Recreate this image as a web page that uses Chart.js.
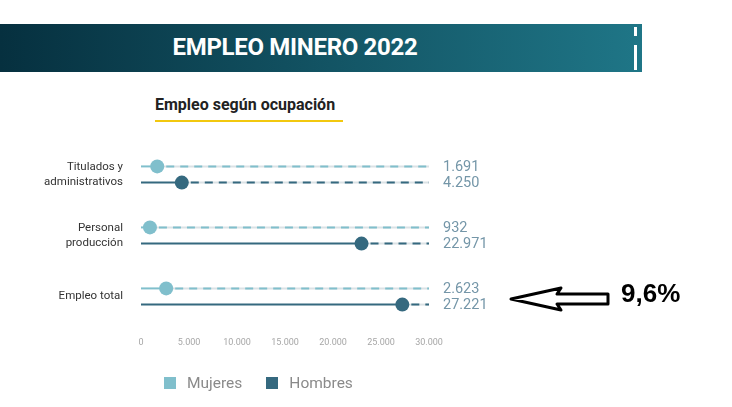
<!DOCTYPE html>
<html>
<head>
<meta charset="utf-8">
<script src="https://cdn.jsdelivr.net/npm/chart.js@4"></script>
<style>
  body { margin: 0; width: 732px; height: 407px; background: #fff; position: relative; overflow: hidden; font-family: Roboto, sans-serif; }
  #banner { position: absolute; left: 0; top: 24px; width: 642px; height: 48px;
            background: linear-gradient(to right, #06303f, #1f7687); }
  #banner h1 { margin: 0; position: absolute; left: 0; width: 590px; top: 9px; text-align: center;
               color: #fff; font: bold 24px Roboto, sans-serif; letter-spacing: -0.3px; }
  .bar { position: absolute; left: 634px; width: 3px; background: #fff; }
  #subtitle { position: absolute; left: 155px; top: 95px; font: bold 16px Roboto, sans-serif; color: #222; }
  #underline { position: absolute; left: 155px; top: 120px; width: 188px; height: 2px; background: #f2c80f; }
  #chartBox { position: absolute; left: 0; top: 0; width: 732px; height: 407px; }
  #legend { position: absolute; left: 164px; top: 374px; font: 15.5px Roboto, sans-serif; color: #8a8a8a; }
  #legend span.sw { display: inline-block; width: 12px; height: 12px; margin-right: 11px; vertical-align: -1px; }
  #legend span.item { margin-right: 24px; }
  #note { position: absolute; left: 621px; top: 278px; font: bold 26px Arial, "Liberation Sans", sans-serif; color: #000; }
  svg { position: absolute; left: 0; top: 0; }
</style>
</head>
<body>
<div id="banner">
  <h1>EMPLEO MINERO 2022</h1>
  <div class="bar" style="top:3px;height:9px"></div>
  <div class="bar" style="top:21px;height:25px"></div>
</div>
<div id="subtitle">Empleo según ocupación</div>
<div id="underline"></div>
<div id="chartBox"><canvas id="chart" width="732" height="407"></canvas></div>
<div id="legend"></div>
<svg width="732" height="407">
  <polygon points="511,299 561,288 557,294 608,294 608,304 557,304 561,310"
           fill="#fff" stroke="#000" stroke-width="3" stroke-linejoin="round"/>
</svg>
<div id="note">9,6%</div>

<script>
// data
const categories = [['Titulados y', 'administrativos'], ['Personal', 'producción'], 'Empleo total'];
const mujeres = [1691, 932, 2623];
const hombres = [4250, 22971, 27221];
const seriesNames = ['Mujeres', 'Hombres'];
const xTicks = [0, 5000, 10000, 15000, 20000, 25000, 30000];
const axisMax = 30000;

const colors = ['#80bfcc', '#35697f'];

function fmt(n) {
    return n.toString().replace(/\B(?=(\d{3})+(?!\d))/g, '.');
}

// dashed tail, dot and value label for every bar
const dumbbellPlugin = {
    id: 'dumbbell',
    afterDatasetsDraw(chart) {
        const ctx = chart.ctx;
        const xs = chart.scales.x;
        const xEnd = xs.getPixelForValue(axisMax);
        chart.data.datasets.forEach((ds, di) => {
            chart.getDatasetMeta(di).data.forEach((bar, i) => {
                const y = bar.y, xv = bar.x;
                ctx.save();
                ctx.lineWidth = 2;
                ctx.strokeStyle = '#dbe2e5';
                ctx.beginPath(); ctx.moveTo(xv, y); ctx.lineTo(xEnd, y); ctx.stroke();
                ctx.setLineDash([8, 6]);
                ctx.strokeStyle = colors[di];
                ctx.beginPath(); ctx.moveTo(xv + 9, y); ctx.lineTo(xEnd, y); ctx.stroke();
                ctx.setLineDash([]);
                ctx.fillStyle = colors[di];
                ctx.beginPath(); ctx.arc(xv, y, 7, 0, Math.PI * 2); ctx.fill();
                ctx.fillStyle = '#7496a8';
                ctx.font = '14.5px Roboto, sans-serif';
                ctx.textAlign = 'left';
                ctx.textBaseline = 'middle';
                ctx.fillText(fmt(ds.data[i]), xEnd + 14, y + 1);
                ctx.restore();
            });
        });
    }
};

new Chart(document.getElementById('chart'), {
    type: 'bar',
    data: {
        labels: categories,
        datasets: [
            { label: seriesNames[0], data: mujeres, backgroundColor: colors[0] },
            { label: seriesNames[1], data: hombres, backgroundColor: colors[1] }
        ]
    },
    options: {
        indexAxis: 'y',
        responsive: false,
        animation: false,
        maxBarThickness: 2,
        categoryPercentage: 0.53,
        barPercentage: 1,
        layout: { padding: { top: 144, right: 303, bottom: 60, left: 0 } },
        plugins: { legend: { display: false }, tooltip: { enabled: false } },
        scales: {
            x: {
                min: 0, max: axisMax,
                afterBuildTicks: (s) => { s.ticks = xTicks.map(v => ({ value: v })); },
                afterFit: (s) => { s.height = 20; },
                grid: { display: false },
                border: { display: false },
                ticks: {
                    padding: 2,
                    color: '#a6a6a6',
                    font: { family: 'Roboto', size: 9 },
                    maxRotation: 0,
                    callback: (v) => fmt(v)
                }
            },
            y: {
                afterFit: (s) => { s.width = 141; },
                grid: { display: false },
                border: { display: false },
                ticks: {
                    padding: 10,
                    color: '#333',
                    font: { family: 'Roboto', size: 11.5, lineHeight: 1.35 }
                }
            }
        }
    },
    plugins: [dumbbellPlugin]
});

// legend
document.getElementById('legend').innerHTML = seriesNames.map((n, i) =>
    `<span class="item"><span class="sw" style="background:${colors[i]}"></span>${n}</span>`).join('');
</script>
</body>
</html>
